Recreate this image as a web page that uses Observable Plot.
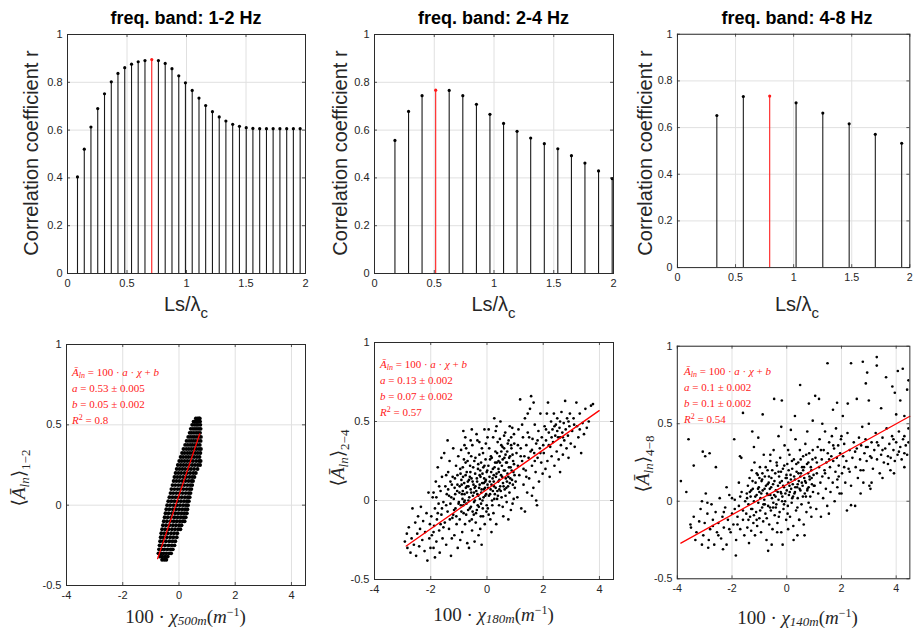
<!DOCTYPE html>
<html><head><meta charset="utf-8">
<script src="https://cdn.jsdelivr.net/npm/d3@7"></script>
<script src="https://cdn.jsdelivr.net/npm/@observablehq/plot@0.6"></script>
<style>
body{margin:0;background:#fff;}
#root{position:relative;width:923px;height:630px;overflow:hidden;background:#fff;}
.panel{position:absolute;}
svg.overlay{position:absolute;left:0;top:0;pointer-events:none;}
</style></head><body><div id="root"></div>
<script>
// ---------- DATA ----------
const titles = ["freq. band: 1-2 Hz", "freq. band: 2-4 Hz", "freq. band: 4-8 Hz"];
const xTicksTop = [0, 0.5, 1, 1.5, 2];
const yTicksTop = [0, 0.2, 0.4, 0.6, 0.8, 1];
const xTicksBot = [-4, -2, 0, 2, 4];
const yTicksBot = [-0.5, 0, 0.5, 1];

const stemX1 = [0.084,0.141,0.197,0.254,0.311,0.368,0.424,0.481,0.538,0.594,0.651,0.708,0.764,0.821,0.878,0.935,0.991,1.048,1.105,1.161,1.218,1.275,1.331,1.388,1.445,1.502,1.558,1.615,1.672,1.728,1.785,1.842,1.898,1.955];
const stemR1 = [0.404,0.52,0.613,0.69,0.752,0.802,0.837,0.861,0.876,0.886,0.891,0.895,0.891,0.879,0.857,0.827,0.798,0.766,0.734,0.703,0.677,0.655,0.638,0.624,0.616,0.61,0.607,0.606,0.606,0.606,0.606,0.606,0.606,0.606];
const best1 = 11;
const stemX2 = [0.171,0.285,0.398,0.512,0.625,0.739,0.853,0.966,1.080,1.193,1.307,1.421,1.534,1.648,1.761,1.875,1.989];
const stemR2 = [0.557,0.678,0.744,0.767,0.766,0.744,0.708,0.666,0.628,0.595,0.567,0.543,0.522,0.493,0.462,0.429,0.397];
const best2 = 3;
const stemX3 = [0.339,0.567,0.794,1.021,1.251,1.478,1.703,1.93];
const stemR3 = [0.652,0.733,0.735,0.706,0.662,0.616,0.571,0.533];
const best3 = 2;

const fitA = ["0.53", "0.13", "0.1"], fitAerr = ["0.005", "0.002", "0.002"];
const fitB = ["0.05", "0.07", "0.1"], fitBerr = ["0.002", "0.002", "0.002"];
const fitR2 = ["0.8", "0.57", "0.54"];
const scales = ["500m", "180m", "140m"];
const bands = ["1\u22122", "2\u22124", "4\u22128"];

const fitLine4 = [[-0.76,-0.333],[0.74,0.444]];
const fitLine5 = [[-2.87,-0.288],[3.99,0.569]];
const fitLine6 = [[-3.87,-0.27],[4.5,0.548]];

// panel 4 cloud, rows: [y, x values]
const cloud4Rows = [
[0.54,[0.60,0.66,0.71,0.74]],
[0.52,[0.52,0.58,0.64,0.69,0.75]],
[0.50,[0.47,0.55,0.62,0.68,0.76]],
[0.475,[0.42,0.50,0.57,0.64,0.71,0.77]],
[0.45,[0.38,0.45,0.53,0.61,0.68,0.75]],
[0.425,[0.33,0.41,0.49,0.56,0.64,0.72,0.78]],
[0.40,[0.27,0.36,0.44,0.52,0.60,0.69,0.77]],
[0.375,[0.22,0.31,0.40,0.48,0.57,0.65,0.74]],
[0.35,[0.16,0.26,0.35,0.44,0.53,0.62,0.71,0.78]],
[0.325,[0.11,0.20,0.30,0.39,0.48,0.58,0.67,0.76]],
[0.30,[0.06,0.15,0.25,0.34,0.44,0.54,0.64,0.73]],
[0.275,[0.01,0.10,0.20,0.30,0.40,0.50,0.61,0.71,0.77]],
[0.25,[-0.04,0.06,0.16,0.26,0.36,0.47,0.57,0.67,0.75]],
[0.225,[-0.08,0.02,0.12,0.22,0.33,0.43,0.54,0.66]],
[0.20,[-0.12,-0.02,0.08,0.19,0.29,0.40,0.51,0.60]],
[0.175,[-0.16,-0.06,0.04,0.15,0.26,0.37,0.47,0.55]],
[0.15,[-0.19,-0.09,0.01,0.12,0.23,0.34,0.44,0.50]],
[0.125,[-0.23,-0.13,-0.02,0.08,0.19,0.30,0.40,0.47]],
[0.10,[-0.27,-0.16,-0.05,0.05,0.16,0.27,0.37,0.44]],
[0.075,[-0.30,-0.20,-0.09,0.02,0.13,0.24,0.34,0.41]],
[0.05,[-0.34,-0.23,-0.12,-0.01,0.10,0.21,0.31,0.38]],
[0.025,[-0.38,-0.27,-0.16,-0.04,0.07,0.18,0.28,0.35]],
[0.0,[-0.42,-0.31,-0.19,-0.07,0.04,0.15,0.25,0.32]],
[-0.025,[-0.45,-0.34,-0.22,-0.10,0.01,0.12,0.22,0.30]],
[-0.05,[-0.48,-0.37,-0.25,-0.13,-0.02,0.09,0.19,0.28]],
[-0.075,[-0.51,-0.40,-0.28,-0.16,-0.05,0.06,0.16,0.24]],
[-0.10,[-0.54,-0.43,-0.31,-0.19,-0.08,0.03,0.13,0.20]],
[-0.125,[-0.57,-0.46,-0.34,-0.22,-0.11,0.00,0.09]],
[-0.15,[-0.60,-0.49,-0.37,-0.25,-0.14,-0.03,0.05]],
[-0.175,[-0.63,-0.52,-0.40,-0.28,-0.17,-0.06]],
[-0.20,[-0.65,-0.55,-0.43,-0.31,-0.20,-0.08]],
[-0.225,[-0.67,-0.57,-0.46,-0.34,-0.23,-0.13]],
[-0.25,[-0.69,-0.60,-0.49,-0.37,-0.26,-0.16]],
[-0.275,[-0.71,-0.62,-0.52,-0.41,-0.30,-0.22]],
[-0.30,[-0.73,-0.64,-0.55,-0.45,-0.35,-0.28]],
[-0.32,[-0.68,-0.59,-0.49,-0.40]],
[-0.34,[-0.60,-0.52,-0.45]]
];

// panel 5 cloud: flat x,y pairs
const cloud5 = [
-2.92,-0.26,-2.85,-0.21,-2.83,-0.30,-2.78,-0.17,-2.72,-0.33,-2.68,-0.24,-2.65,-0.05,-2.6,-0.28,-2.55,-0.14,-2.52,-0.35,-2.48,-0.21,-2.45,-0.10,-2.41,-0.29,-2.38,-0.18,-2.35,-0.04,-2.3,-0.25,-2.27,-0.13,-2.22,-0.32,-2.2,-0.20,-2.15,-0.08,-2.12,-0.38,-2.08,0.05,-2.05,-0.24,-2.03,-0.15,-2.01,-0.30,
-1.98,-0.10,-1.96,-0.22,-1.93,0.02,-1.9,-0.30,-1.88,-0.16,-1.85,-0.05,-1.82,0.12,-1.8,-0.26,-1.78,-0.12,-1.75,0.21,-1.72,-0.02,-1.7,-0.19,-1.68,-0.33,-1.65,0.06,-1.62,-0.09,-1.6,0.15,-1.58,-0.24,-1.55,-0.01,-1.52,0.30,-1.5,-0.14,-1.48,0.09,-1.45,-0.28,-1.43,0.04,-1.4,-0.07,-1.38,0.18,-1.35,-0.18,-1.33,0.25,-1.3,-0.02,-1.28,-0.35,-1.25,0.10,-1.23,-0.11,-1.2,0.33,-1.18,0.01,-1.16,-0.22,-1.14,0.14,-1.12,-0.05,-1.1,0.22,-1.08,-0.15,-1.06,0.06,-1.04,-0.30,-1.02,0.28,-1.01,-0.02,-1.9,0.05,-1.7,0.09,-1.55,-0.17,-1.45,0.16,-1.35,0.03,-1.25,-0.24,-1.15,0.08,-1.05,0.16,-1.85,-0.36,-1.62,0.27,-1.4,0.38,-1.3,0.12,-1.2,-0.09,
-0.98,0.05,-0.97,-0.12,-0.95,0.20,-0.93,-0.03,-0.92,0.32,-0.9,0.10,-0.88,-0.20,-0.87,0.01,-0.85,0.15,-0.83,-0.08,-0.82,0.26,-0.8,0.04,-0.78,-0.15,-0.77,0.40,-0.75,0.08,-0.73,-0.02,-0.72,0.18,-0.7,-0.27,-0.68,0.12,-0.67,-0.06,-0.65,0.30,-0.63,0.02,-0.62,-0.13,-0.6,0.22,-0.58,0.07,-0.57,-0.04,-0.55,0.14,-0.53,-0.19,-0.52,0.35,-0.5,0.03,-0.48,0.10,-0.47,-0.09,-0.45,0.25,-0.43,0.00,-0.42,0.17,-0.4,-0.14,-0.38,0.06,-0.37,0.42,-0.35,0.12,-0.33,-0.03,-0.32,0.20,-0.3,-0.22,-0.28,0.08,-0.27,0.29,-0.25,0.01,-0.23,0.15,-0.22,-0.10,-0.2,0.05,-0.18,0.33,-0.17,0.11,-0.15,-0.05,-0.13,0.21,-0.12,0.02,-0.1,0.14,-0.08,-0.15,-0.07,0.08,-0.05,0.26,-0.03,0.04,-0.02,-0.07,-0.01,0.18,-0.95,-0.25,-0.86,0.06,-0.76,0.24,-0.66,0.09,-0.56,0.28,-0.46,0.05,-0.36,-0.06,-0.26,0.16,-0.16,0.00,-0.06,0.12,-0.91,0.13,-0.81,-0.01,-0.71,0.05,-0.61,0.15,-0.51,-0.07,-0.41,0.09,-0.31,0.03,-0.21,0.24,-0.11,0.07,-0.04,0.36,-0.64,-0.30,-0.44,-0.26,-0.24,-0.18,-0.14,0.30,-0.34,0.38,-0.54,0.45,-0.74,0.33,-0.84,0.44,-0.19,-0.28,-0.09,0.45,
0.02,0.10,0.03,-0.05,0.05,0.22,0.07,0.03,0.08,0.33,0.1,0.12,0.12,-0.12,0.13,0.07,0.15,0.18,0.17,0.27,0.18,0.00,0.2,0.14,0.22,0.40,0.23,-0.08,0.25,0.09,0.27,0.21,0.28,0.04,0.3,0.31,0.32,0.15,0.33,-0.15,0.35,0.24,0.37,0.06,0.38,0.37,0.4,0.12,0.42,0.18,0.43,-0.03,0.45,0.28,0.47,0.09,0.48,0.50,0.5,0.16,0.52,0.02,0.53,0.22,0.55,0.34,0.57,0.11,0.58,-0.10,0.6,0.19,0.62,0.27,0.63,0.07,0.65,0.43,0.67,0.14,0.68,0.24,0.7,-0.01,0.72,0.31,0.73,0.17,0.75,0.09,0.77,0.38,0.78,0.21,0.8,0.05,0.82,0.28,0.83,0.14,0.85,-0.06,0.87,0.33,0.88,0.19,0.9,0.46,0.92,0.10,0.93,0.25,0.95,0.01,0.97,0.36,0.98,0.16,0.06,0.45,0.16,-0.20,0.26,0.52,0.36,0.01,0.46,0.39,0.56,-0.04,0.66,0.03,0.76,-0.12,0.86,0.40,0.96,0.23,0.11,0.26,0.21,0.06,0.31,0.44,0.41,0.25,0.51,0.31,0.61,0.41,0.71,0.12,0.81,0.47,0.91,-0.02,0.24,0.16,0.44,0.07,
1.02,0.12,1.05,0.30,1.08,0.02,1.1,0.22,1.12,0.45,1.15,0.16,1.18,0.64,1.2,0.33,1.22,-0.05,1.25,0.25,1.28,0.40,1.3,0.10,1.33,0.28,1.35,0.52,1.38,0.19,1.4,0.35,1.43,0.05,1.45,0.43,1.48,0.27,1.5,0.14,1.53,0.58,1.55,0.31,1.57,0.66,1.6,0.22,1.62,0.39,1.65,0.08,1.66,0.62,1.68,0.30,1.7,0.48,1.73,0.18,1.75,0.36,1.78,-0.03,1.8,0.27,1.83,0.44,1.85,0.12,1.88,0.33,1.9,0.55,1.93,0.24,1.95,0.40,1.98,0.17,1.35,-0.07,1.6,0.03,1.45,0.55,1.25,0.48,1.75,0.00,
2.02,0.30,2.05,0.47,2.08,0.20,2.1,0.38,2.13,0.55,2.15,0.25,2.17,0.62,2.2,0.43,2.23,0.15,2.25,0.34,2.28,0.50,2.3,0.28,2.33,0.45,2.35,0.37,2.38,0.55,2.4,0.22,2.43,0.41,2.45,0.48,2.48,0.31,2.5,0.52,2.53,0.40,2.55,0.26,2.58,0.46,2.6,0.50,2.63,0.35,2.65,0.56,2.68,0.43,2.7,0.29,2.73,0.49,2.75,0.38,2.78,0.63,2.8,0.45,2.83,0.33,2.85,0.52,2.88,0.41,2.9,0.27,2.93,0.47,2.95,0.55,2.98,0.36,2.6,0.18,
3.03,0.44,3.08,0.52,3.12,0.34,3.18,0.62,3.2,0.47,3.25,0.40,3.3,0.55,3.35,0.30,3.4,0.49,3.45,0.42,3.5,0.58,3.55,0.46,3.62,0.50,3.7,0.60,3.77,0.61
];
// panel 5: additional points in the dense core
const cloud5Core = [
-1.45,-0.03,-1.38,0.07,-1.32,-0.12,-1.27,0.02,-1.22,0.15,-1.17,-0.06,-1.13,0.04,-1.09,-0.10,-1.05,0.10,-1.0,-0.01,-0.97,0.09,-0.94,0.17,-0.91,-0.07,-0.89,0.04,-0.86,0.21,-0.84,-0.03,-0.81,0.11,-0.79,0.00,-0.76,0.16,-0.74,-0.09,-0.71,0.09,-0.69,0.25,-0.66,0.00,-0.64,0.13,-0.61,-0.05,-0.59,0.18,-0.56,0.05,-0.54,-0.12,-0.51,0.12,-0.49,0.21,-0.46,-0.01,-0.44,0.08,-0.41,0.27,-0.39,-0.08,-0.36,0.14,-0.34,0.04,-0.31,0.23,-0.29,-0.04,-0.26,0.10,-0.24,0.19,-0.21,-0.02,-0.19,0.07,-0.16,0.17,-0.14,-0.10,-0.11,0.11,-0.09,0.22,-0.06,0.03,-0.04,0.13,-0.01,-0.03,0.01,0.19,0.04,0.08,0.06,-0.09,0.09,0.15,0.11,0.04,0.14,0.28,0.16,0.10,0.19,-0.03,0.21,0.20,0.24,0.12,0.26,0.01,0.29,0.24,0.31,0.08,0.34,0.17,0.36,0.30,0.39,0.03,0.41,0.20,0.44,0.13,0.46,0.24,0.49,0.06,0.51,0.35,0.54,0.15,0.56,0.26,0.59,0.09,0.61,0.33,0.64,0.19,0.66,0.29,0.69,0.08,0.71,0.24,0.74,0.36,0.76,0.15,0.79,0.27,0.81,0.11,0.84,0.21,0.86,0.35,0.89,0.13,0.91,0.29,0.94,0.18,0.96,0.42,0.99,0.08,-1.6,-0.05,-1.65,-0.15,-1.75,-0.08,-1.8,0.02,-1.9,-0.2,-0.58,0.38,-0.27,0.37,0.02,0.40,0.34,0.47,-0.8,0.35,
1.1,0.35,1.3,0.20,1.5,0.40,1.7,0.25,1.9,0.30,2.1,0.45,2.3,0.40,2.5,0.44,2.7,0.40,2.9,0.50,3.1,0.48,3.3,0.45,1.2,0.28,1.4,0.15,1.6,0.32,1.8,0.38,2.0,0.35,2.2,0.35,2.4,0.47,2.6,0.40
];

// panel 6 cloud: flat x,y pairs
const cloud6 = [
1.49,0.89,2.35,0.89,2.78,0.90,3.29,0.93,3.29,0.875,2.94,0.83,3.63,0.80,4.06,0.84,4.24,0.855,4.45,0.78,0.49,0.75,1.04,0.68,1.18,0.66,0.81,0.63,-0.46,0.66,-0.18,0.65,-0.88,0.56,-1.6,0.57,-1.26,0.45,-1.04,0.41,1.69,0.59,1.84,0.635,2.23,0.63,2.56,0.66,2.89,0.76,3.86,0.74,3.95,0.70,4.0,0.56,4.3,0.55,-3.59,0.40,-3.07,0.32,-2.82,0.31,-2.98,0.29,-1.92,0.40,-1.71,0.29,-1.66,0.28,-2.59,0.22,-3.4,0.23,-3.87,0.13,-3.67,0.06,-2.96,0.05,-3.1,0.0,-3.52,-0.15,-3.34,-0.25,-2.87,-0.30,-2.33,-0.31,-1.86,-0.35,-0.68,-0.32,0.39,-0.22,2.35,-0.025,2.5,-0.03,2.2,-0.06,1.54,-0.08,1.85,0.09,2.0,0.05,3.02,0.10,3.06,0.08,3.79,0.20,3.92,0.18,4.3,0.31,4.45,0.38,0.3,0.55,-0.2,0.48,0.95,0.52,1.3,0.50,2.05,0.55,3.45,0.60,4.15,0.65,3.0,0.65,4.4,0.72,
-3.5,-0.17,-3.4,-0.10,-3.3,-0.20,-3.2,-0.13,-3.15,-0.05,-3.05,-0.22,-3.0,-0.14,-2.9,-0.08,-2.85,-0.25,-2.8,-0.18,-2.75,-0.02,-2.7,-0.12,-2.65,-0.28,-2.6,-0.07,-2.55,-0.20,-2.5,-0.14,-2.45,0.02,-2.4,-0.24,-2.35,-0.10,-2.3,-0.17,-2.25,-0.04,-2.2,-0.28,-2.15,-0.12,-2.1,0.04,-2.05,-0.20,-2.0,-0.08,-1.95,-0.15,-1.9,0.01,-1.85,-0.25,-1.8,-0.10,-1.75,-0.03,-1.7,-0.18,-1.65,0.06,-1.6,-0.12,-1.55,-0.22,-1.52,0.0,-2.9,-0.01,-2.2,0.09,-1.75,0.12,-3.1,-0.28,
-1.48,-0.08,-1.46,0.05,-1.44,-0.17,-1.42,0.10,-1.4,-0.02,-1.38,-0.27,-1.36,0.15,-1.34,-0.10,-1.32,0.03,-1.3,-0.19,-1.28,0.20,-1.26,-0.05,-1.24,0.08,-1.22,-0.14,-1.2,0.00,-1.18,0.25,-1.16,-0.22,-1.14,0.12,-1.12,-0.07,-1.1,0.04,-1.08,-0.16,-1.06,0.17,-1.04,-0.01,-1.02,0.09,-1.0,-0.11,-0.98,0.22,-0.96,0.02,-0.94,-0.20,-0.92,0.13,-0.9,-0.04,-0.88,0.07,-0.86,-0.13,-0.84,0.30,-0.82,0.01,-0.8,0.16,-0.78,-0.08,-0.76,0.10,-0.74,-0.25,-0.72,0.05,-0.7,0.20,-0.68,-0.03,-0.66,0.12,-0.64,-0.15,-0.62,0.08,-0.6,0.26,-0.58,-0.06,-0.56,0.15,-0.54,0.02,-0.52,-0.18,-0.5,0.11,-0.48,0.33,-0.46,0.04,-0.44,-0.09,-0.42,0.18,-0.4,0.07,-0.38,-0.02,-0.36,0.23,-0.34,-0.14,-0.32,0.10,-0.3,0.01,-0.28,0.16,-0.26,-0.07,-0.24,0.28,-0.22,0.06,-0.2,-0.20,-0.18,0.13,-0.16,0.03,-0.14,0.21,-0.12,-0.05,-0.1,0.09,-0.08,0.36,-0.06,0.00,-0.04,0.15,-0.02,-0.12,0.0,0.07,0.02,0.24,0.04,-0.03,0.06,0.12,0.08,0.04,0.1,0.30,0.12,-0.10,0.14,0.17,0.16,0.08,0.18,-0.01,0.2,0.21,0.22,0.11,0.24,-0.16,0.26,0.27,0.28,0.05,0.3,0.14,0.32,0.40,0.34,-0.06,0.36,0.19,0.38,0.09,0.4,0.02,0.42,0.25,0.44,0.13,0.46,-0.12,0.48,0.33,0.5,0.07,0.52,0.18,0.54,-0.02,0.56,0.22,0.58,0.10,0.6,0.29,0.62,-0.15,0.64,0.15,0.66,0.05,0.68,0.37,0.7,0.12,0.72,-0.07,0.74,0.24,0.76,0.08,0.78,0.18,0.8,-0.01,0.82,0.31,0.84,0.14,0.86,0.03,0.88,0.22,0.9,-0.10,0.92,0.11,0.94,0.27,0.96,0.06,0.98,0.17,
-1.0,0.06,-0.8,-0.02,-0.6,0.04,-0.4,-0.04,-0.2,0.05,0.0,0.15,0.2,0.02,0.4,0.11,0.6,0.20,0.8,0.09,-0.9,0.14,-0.7,0.11,-0.5,-0.04,-0.3,0.19,-0.1,-0.02,0.1,0.10,0.3,0.06,0.5,0.16,0.7,0.03,0.9,0.20,-1.1,0.18,-1.3,0.07,-0.15,-0.28,0.25,-0.25,-0.55,-0.28,0.65,-0.22,-1.2,0.35,-0.3,0.42,0.15,0.46,0.75,0.45,
1.02,0.10,1.05,0.28,1.08,-0.05,1.1,0.18,1.13,0.35,1.15,0.05,1.18,0.22,1.2,0.40,1.23,0.12,1.25,-0.10,1.28,0.27,1.3,0.16,1.33,0.02,1.35,0.33,1.38,0.20,1.4,0.45,1.43,0.08,1.45,0.25,1.48,-0.03,1.5,0.31,1.53,0.15,1.55,0.38,1.58,0.22,1.6,0.06,1.63,0.29,1.65,0.42,1.68,0.12,1.7,0.26,1.73,0.34,1.75,0.00,1.78,0.19,1.8,0.47,1.83,0.28,1.85,0.14,1.88,0.36,1.9,0.23,1.93,0.05,1.95,0.31,1.98,0.40,2.02,0.18,2.06,0.29,2.1,0.37,2.14,0.12,2.18,0.26,2.22,0.44,2.26,0.21,2.3,0.33,2.35,0.10,2.4,0.28,2.45,0.38,
2.52,0.22,2.56,0.34,2.6,0.15,2.64,0.41,2.68,0.27,2.72,0.36,2.76,0.48,2.8,0.20,2.84,0.31,2.88,0.40,2.92,0.26,2.96,0.35,3.0,0.50,3.05,0.29,3.1,0.38,3.15,0.21,3.2,0.33,3.25,0.44,3.3,0.27,3.35,0.36,3.4,0.18,3.45,0.30,3.5,0.41,3.55,0.25,3.6,0.34,3.65,0.47,3.7,0.29,3.75,0.37,3.8,0.28,3.85,0.42,3.9,0.33,3.95,0.26,4.0,0.38,4.05,0.30,4.1,0.45,4.15,0.35,4.2,0.27,4.25,0.40,4.3,0.22,4.35,0.36,4.4,0.30,4.45,0.47,3.1,0.12,3.5,0.15,2.7,0.05
];
// panel 6: additional points in the dense core
const cloud6Core = [
-1.45,0.02,-1.4,-0.12,-1.35,0.06,-1.3,-0.05,-1.25,0.13,-1.2,-0.09,-1.15,0.03,-1.1,-0.12,-1.05,0.08,-1.0,0.15,-0.97,-0.06,-0.93,0.05,-0.89,0.18,-0.85,-0.02,-0.81,0.08,-0.77,0.22,-0.73,-0.11,-0.69,0.04,-0.65,0.16,-0.61,-0.04,-0.57,0.09,-0.53,0.20,-0.49,-0.01,-0.45,0.13,-0.41,0.03,-0.37,0.25,-0.33,0.06,-0.29,-0.10,-0.25,0.12,-0.21,0.19,-0.17,0.00,-0.13,0.10,-0.09,0.23,-0.05,0.05,-0.01,0.17,0.03,-0.08,0.07,0.20,0.11,0.06,0.15,0.14,0.19,0.26,0.23,0.03,0.27,0.16,0.31,0.09,0.35,0.24,0.39,-0.04,0.43,0.18,0.47,0.08,0.51,0.27,0.55,0.12,0.59,0.03,0.63,0.22,0.67,0.13,0.71,0.30,0.75,0.07,0.79,0.25,0.83,0.16,0.87,-0.04,0.91,0.15,0.95,0.33,0.99,0.10,-1.6,-0.06,-1.7,0.03,-1.8,-0.15,-1.9,-0.05,-2.0,0.02,-2.1,-0.18,-2.3,-0.07,-2.5,-0.22,-2.7,-0.16,-0.35,-0.20,0.05,-0.18,0.45,-0.12,-0.6,0.30,0.05,0.33,
1.1,0.25,1.25,0.33,1.4,0.18,1.55,0.27,1.7,0.36,1.9,0.16,2.1,0.22,2.3,0.19,2.5,0.32,2.7,0.20,2.9,0.35,3.1,0.28,3.3,0.38,3.5,0.33,3.7,0.24,3.9,0.40,4.1,0.32,4.3,0.42,2.0,0.42,2.8,0.12
];

// ---------- BUILD ----------
const pairs = flat => d3.range(0, flat.length, 2).map(i => ({x: flat[i], y: flat[i + 1]}));
const cloud4 = cloud4Rows.flatMap(([y, xs]) => xs.map(x => ({x, y})));
const stems = (xs, rs, best) => xs.map((x, i) => ({x, r: rs[i], best: i === best}));
const fitPts = arr => arr.map(([x, y]) => ({x, y}));

const root = document.getElementById("root");
const mL = 44, mR = 14, mT = 10, mB = 26;
const AX = "#2b2b2b";

function panel({left, top, w, h, xDomain, yDomain, xTicks, yTicks, marks}) {
  const chart = Plot.plot({
    width: w + mL + mR, height: h + mT + mB,
    marginLeft: mL, marginRight: mR, marginTop: mT, marginBottom: mB,
    x: {domain: xDomain}, y: {domain: yDomain},
    style: {fontFamily: "'Liberation Sans', Arial, Helvetica, sans-serif", fontSize: "11px", color: "#262626", background: "transparent", overflow: "visible"},
    marks: [
      Plot.gridX({ticks: xTicks, stroke: "#e0e0e0", strokeOpacity: 1}),
      Plot.gridY({ticks: yTicks, stroke: "#e0e0e0", strokeOpacity: 1}),
      ...marks,
      Plot.ruleX(xTicks, {insetTop: h - 3, stroke: AX, strokeWidth: 0.8}),
      Plot.ruleX(xTicks, {insetBottom: h - 3, stroke: AX, strokeWidth: 0.8}),
      Plot.ruleY(yTicks, {insetRight: w - 3, stroke: AX, strokeWidth: 0.8}),
      Plot.ruleY(yTicks, {insetLeft: w - 3, stroke: AX, strokeWidth: 0.8}),
      Plot.frame({stroke: AX, strokeWidth: 1}),
      Plot.axisX({ticks: xTicks, tickSize: 0, tickPadding: 6, label: null, tickFormat: d => String(d), fontSize: 11}),
      Plot.axisY({ticks: yTicks, tickSize: 0, tickPadding: 5, label: null, tickFormat: d => String(d), fontSize: 11})
    ]
  });
  const div = document.createElement("div");
  div.className = "panel";
  div.style.left = (left - mL) + "px";
  div.style.top = (top - mT) + "px";
  div.appendChild(chart);
  root.appendChild(div);
}

const topFrames = [
  {left: 67, top: 34, w: 238, h: 239, data: stems(stemX1, stemR1, best1)},
  {left: 374, top: 34, w: 239, h: 239, data: stems(stemX2, stemR2, best2)},
  {left: 678, top: 34, w: 238, h: 239, data: stems(stemX3, stemR3, best3)}
];
topFrames.forEach(f => panel({
  left: f.left, top: f.top, w: f.w, h: f.h,
  xDomain: [0, 2], yDomain: [0, 1], xTicks: xTicksTop, yTicks: yTicksTop,
  marks: [
    Plot.ruleX(f.data, {x: "x", y1: 0, y2: "r", stroke: d => d.best ? "#ff1a1a" : "#1a1a1a", strokeWidth: 1.1}),
    Plot.dot(f.data, {x: "x", y: "r", r: 1.6, fill: d => d.best ? "#ff1a1a" : "#000", stroke: "none"})
  ]
}));

const botFrames = [
  {left: 66, top: 344, w: 239, h: 241, cloud: cloud4, fit: fitPts(fitLine4), r: 1.95},
  {left: 374, top: 342, w: 239, h: 237, cloud: pairs(cloud5).concat(pairs(cloud5Core)), fit: fitPts(fitLine5), r: 1.35},
  {left: 678, top: 346, w: 239, h: 239, cloud: pairs(cloud6).concat(pairs(cloud6Core)), fit: fitPts(fitLine6), r: 1.35}
];
botFrames.forEach(f => panel({
  left: f.left, top: f.top, w: f.w, h: f.h,
  xDomain: [-4, 4.5], yDomain: [-0.5, 1], xTicks: xTicksBot, yTicks: yTicksBot,
  marks: [
    Plot.dot(f.cloud, {x: "x", y: "y", r: f.r, fill: "#000", stroke: "none", clip: true}),
    Plot.line(f.fit, {x: "x", y: "y", stroke: "#ff0000", strokeWidth: 1.3})
  ]
}));

// ---------- TEXT OVERLAY ----------
const svg = d3.select(root).append("svg").attr("class", "overlay").attr("width", 923).attr("height", 630);
const SANS = "'Liberation Sans', Arial, Helvetica, sans-serif";
const SERIF = "'Liberation Serif', 'DejaVu Serif', 'Times New Roman', serif";

const topCx = [186, 493.5, 797];
const botCx = [185.5, 493.5, 797.5];
titles.forEach((t, i) => {
  svg.append("text").attr("x", topCx[i]).attr("y", 24).attr("text-anchor", "middle")
    .attr("font-family", SANS).attr("font-weight", "bold").attr("font-size", 18).attr("fill", "#000").text(t);
  svg.append("text").attr("transform", `translate(${[38, 347, 652][i]},153) rotate(-90)`).attr("text-anchor", "middle")
    .attr("font-family", SANS).attr("font-size", 20).attr("fill", "#262626").text("Correlation coefficient r");
  const xl = svg.append("text").attr("x", topCx[i]).attr("y", 311).attr("text-anchor", "middle")
    .attr("font-family", SANS).attr("font-size", 20).attr("fill", "#262626");
  xl.append("tspan").text("Ls/\u03bb");
  xl.append("tspan").attr("dy", 7).attr("font-size", 15).text("c");
});

const botYlab = [[25, 478], [344, 458], [649, 464]];
const botXbase = [623, 621, 624];
const annX = [72, 380, 684];
const annY0 = [376, 368, 375];
bands.forEach((b, i) => {
  const yl = svg.append("text").attr("transform", `translate(${botYlab[i][0]},${botYlab[i][1]}) rotate(-90)`)
    .attr("text-anchor", "middle").attr("font-family", SERIF).attr("font-size", 19).attr("fill", "#262626");
  yl.append("tspan").text("\u27e8");
  yl.append("tspan").attr("font-style", "italic").text("\u0100");
  yl.append("tspan").attr("font-style", "italic").attr("font-size", 13).attr("dy", 4).text("ln");
  yl.append("tspan").attr("dy", -4).text("\u27e9");
  yl.append("tspan").attr("font-size", 13).attr("dy", 5).text(b);
  const xl = svg.append("text").attr("x", botCx[i]).attr("y", botXbase[i]).attr("text-anchor", "middle")
    .attr("font-family", SERIF).attr("font-size", 19).attr("fill", "#262626");
  xl.append("tspan").text("100 \u00b7 ");
  xl.append("tspan").attr("font-style", "italic").text("\u03c7");
  xl.append("tspan").attr("font-style", "italic").attr("font-size", 13).attr("dy", 2).text(scales[i]);
  xl.append("tspan").attr("dy", -2).text("(");
  xl.append("tspan").attr("font-style", "italic").text("m");
  xl.append("tspan").attr("font-size", 12).attr("dy", -7).text("\u22121");
  xl.append("tspan").attr("dy", 7).text(")");
  const g = svg.append("g").attr("font-family", SERIF).attr("font-size", 11).attr("fill", "#ff2020");
  const l1 = g.append("text").attr("x", annX[i]).attr("y", annY0[i]);
  l1.append("tspan").attr("font-style", "italic").text("\u0100");
  l1.append("tspan").attr("font-style", "italic").attr("font-size", 8).attr("dy", 2).text("ln");
  l1.append("tspan").attr("dy", -2).text(" = 100 \u00b7 ");
  l1.append("tspan").attr("font-style", "italic").text("a");
  l1.append("tspan").text(" \u00b7 ");
  l1.append("tspan").attr("font-style", "italic").text("\u03c7");
  l1.append("tspan").text(" + ");
  l1.append("tspan").attr("font-style", "italic").text("b");
  const l2 = g.append("text").attr("x", annX[i]).attr("y", annY0[i] + 16);
  l2.append("tspan").attr("font-style", "italic").text("a");
  l2.append("tspan").text(` = ${fitA[i]} \u00b1 ${fitAerr[i]}`);
  const l3 = g.append("text").attr("x", annX[i]).attr("y", annY0[i] + 32);
  l3.append("tspan").attr("font-style", "italic").text("b");
  l3.append("tspan").text(` = ${fitB[i]} \u00b1 ${fitBerr[i]}`);
  const l4 = g.append("text").attr("x", annX[i]).attr("y", annY0[i] + 48);
  l4.append("tspan").attr("font-style", "italic").text("R");
  l4.append("tspan").attr("font-size", 8).attr("dy", -4).text("2");
  l4.append("tspan").attr("dy", 4).text(` = ${fitR2[i]}`);
});
</script></body></html>
